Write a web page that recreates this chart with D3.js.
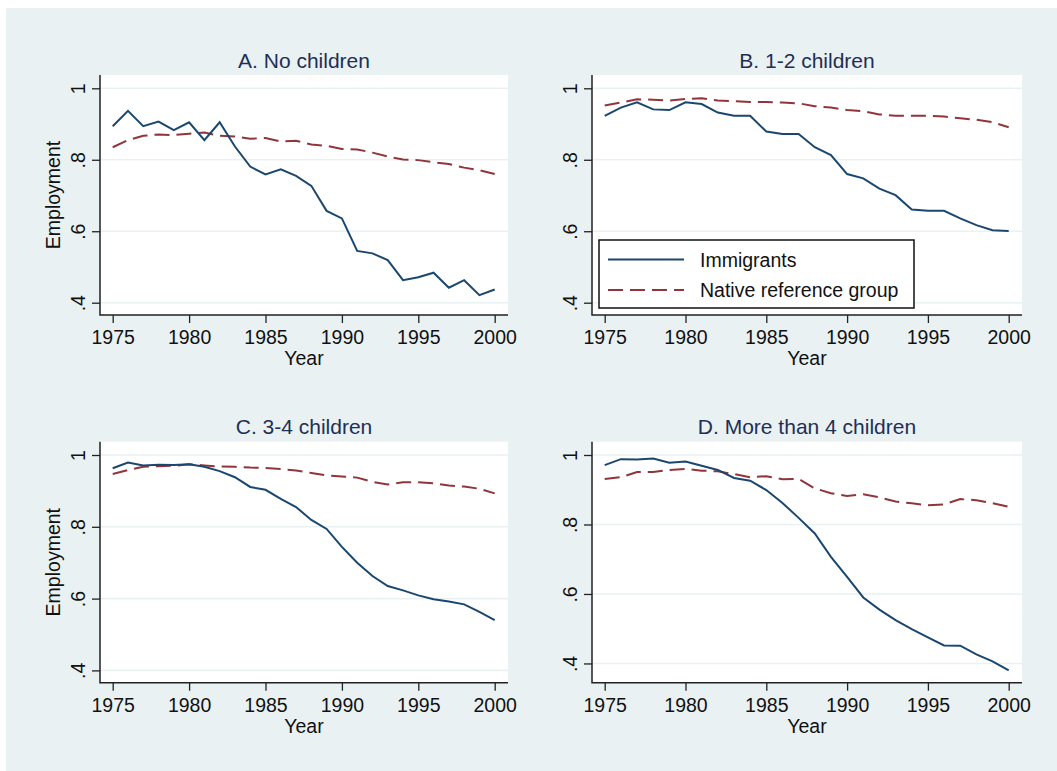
<!DOCTYPE html>
<meta charset="utf-8">
<html>
<head>
<script src="https://cdn.jsdelivr.net/npm/d3@7"></script>
<style>
  body { margin: 0; background: #fff; }
  text { font-family: "Liberation Sans", Arial, sans-serif; }
  .tick line { stroke: #222; stroke-width: 1.3px; }
  .tick text { fill: #111; font-size: 19.5px; }
</style>
</head>
<body>
<div id="chart"></div>
<script>
// ---- data ----
var years = [1975, 1976, 1977, 1978, 1979, 1980, 1981, 1982, 1983, 1984, 1985, 1986, 1987,
             1988, 1989, 1990, 1991, 1992, 1993, 1994, 1995, 1996, 1997, 1998, 1999, 2000];
var xTicks = [1975, 1980, 1985, 1990, 1995, 2000];
var yTicks = [0.4, 0.6, 0.8, 1];
var panelTitles = ["A. No children", "B. 1-2 children", "C. 3-4 children", "D. More than 4 children"];
var seriesNames = ["Immigrants", "Native reference group"];

var immA = [0.894, 0.937, 0.894, 0.907, 0.883, 0.905, 0.855, 0.905, 0.837, 0.781, 0.759, 0.773, 0.755,
            0.727, 0.657, 0.636, 0.545, 0.538, 0.519, 0.463, 0.471, 0.484, 0.442, 0.463, 0.421, 0.437];
var natA = [0.835, 0.855, 0.867, 0.871, 0.869, 0.873, 0.876, 0.867, 0.865, 0.859, 0.861, 0.851, 0.853,
            0.843, 0.839, 0.830, 0.829, 0.820, 0.809, 0.801, 0.799, 0.793, 0.788, 0.778, 0.771, 0.760];
var immB = [0.923, 0.946, 0.961, 0.941, 0.939, 0.961, 0.956, 0.932, 0.923, 0.923, 0.879, 0.872, 0.872,
            0.835, 0.813, 0.760, 0.748, 0.719, 0.701, 0.661, 0.657, 0.657, 0.636, 0.617, 0.603, 0.601];
var natB = [0.952, 0.960, 0.969, 0.968, 0.966, 0.970, 0.972, 0.966, 0.964, 0.962, 0.962, 0.960, 0.958,
            0.950, 0.946, 0.939, 0.936, 0.927, 0.923, 0.923, 0.923, 0.921, 0.916, 0.912, 0.905, 0.891];
var immC = [0.963, 0.979, 0.971, 0.973, 0.972, 0.974, 0.967, 0.955, 0.938, 0.911, 0.903, 0.878, 0.855,
            0.819, 0.794, 0.744, 0.700, 0.663, 0.635, 0.623, 0.609, 0.598, 0.592, 0.584, 0.563, 0.540];
var natC = [0.947, 0.958, 0.967, 0.969, 0.970, 0.974, 0.971, 0.968, 0.967, 0.965, 0.964, 0.961, 0.957,
            0.950, 0.943, 0.940, 0.937, 0.925, 0.918, 0.924, 0.924, 0.921, 0.915, 0.912, 0.906, 0.893];
var immD = [0.971, 0.988, 0.987, 0.990, 0.978, 0.981, 0.969, 0.957, 0.934, 0.926, 0.899, 0.862, 0.819,
            0.774, 0.707, 0.649, 0.590, 0.555, 0.525, 0.499, 0.475, 0.452, 0.451, 0.426, 0.406, 0.380];
var natD = [0.931, 0.936, 0.951, 0.951, 0.957, 0.960, 0.955, 0.953, 0.945, 0.936, 0.939, 0.930, 0.931,
            0.904, 0.890, 0.882, 0.887, 0.878, 0.866, 0.861, 0.855, 0.858, 0.873, 0.870, 0.861, 0.851];

// ---- layout ----
var W = 1057, H = 771;
var bg = "#eaf1f3";
var colors = ["#1a476f", "#90353b"];

var panels = [
  {title: panelTitles[0], imm: immA, nat: natA, left: 100, right: 508, top: 75, bottom: 315, ytitle: true},
  {title: panelTitles[1], imm: immB, nat: natB, left: 592, right: 1022, top: 75, bottom: 315, legend: true},
  {title: panelTitles[2], imm: immC, nat: natC, left: 100, right: 508, top: 441.7, bottom: 682.7, ytitle: true},
  {title: panelTitles[3], imm: immD, nat: natD, left: 592, right: 1022, top: 441.7, bottom: 682.7}
];

var svg = d3.select("#chart").append("svg")
    .attr("width", W)
    .attr("height", H);

svg.append("rect")
    .attr("x", 6).attr("y", 8)
    .attr("width", W - 6).attr("height", H - 8)
    .attr("fill", bg);

var fmt = function(d) { return d === 1 ? "1" : d3.format(".1f")(d).replace(/^0/, ""); };

panels.forEach(function(p) {
  var g = svg.append("g");

  var lo = Math.min(0.4, d3.min(p.imm.concat(p.nat)));
  var x = d3.scaleLinear().domain([1975, 2000]).range([p.left + 12.7, p.right - 13.3]);
  var y = d3.scaleLinear().domain([lo, 1]).range([p.bottom - 12.3, p.top + 13.3]);

  // plot region
  g.append("rect")
      .attr("x", p.left).attr("y", p.top)
      .attr("width", p.right - p.left).attr("height", p.bottom - p.top)
      .attr("fill", "#fff");

  // gridlines
  g.selectAll(".grid").data(yTicks).enter().append("line")
      .attr("x1", p.left).attr("x2", p.right)
      .attr("y1", function(d) { return y(d); }).attr("y2", function(d) { return y(d); })
      .attr("stroke", bg).attr("stroke-width", 1.6);

  // title
  g.append("text")
      .attr("x", (p.left + p.right) / 2).attr("y", p.top - 7.5)
      .attr("text-anchor", "middle")
      .attr("font-size", "21px")
      .attr("fill", "#1e2f55")
      .text(p.title);

  // x axis
  var xa = g.append("g")
      .attr("transform", "translate(0," + p.bottom + ")")
      .call(d3.axisBottom(x).tickValues(xTicks).tickFormat(d3.format("d")).tickSize(8).tickPadding(7).tickSizeOuter(0));
  xa.select(".domain").remove();

  // y axis
  var ya = g.append("g")
      .attr("transform", "translate(" + p.left + ",0)")
      .call(d3.axisLeft(y).tickValues(yTicks).tickFormat(fmt).tickSize(8).tickSizeOuter(0));
  ya.select(".domain").remove();
  ya.selectAll(".tick text")
      .attr("x", null).attr("dy", null)
      .attr("text-anchor", "middle")
      .attr("transform", "translate(-15,0) rotate(-90)");

  // axis lines
  g.append("path")
      .attr("d", "M" + p.left + "," + p.top + "V" + p.bottom + "H" + p.right)
      .attr("fill", "none").attr("stroke", "#222").attr("stroke-width", 1.5);

  // axis titles
  g.append("text")
      .attr("x", (p.left + p.right) / 2).attr("y", p.bottom + 50)
      .attr("text-anchor", "middle").attr("font-size", "19.5px").attr("fill", "#111")
      .text("Year");
  if (p.ytitle) {
    g.append("text")
        .attr("transform", "translate(" + (p.left - 40) + "," + ((p.top + p.bottom) / 2) + ") rotate(-90)")
        .attr("text-anchor", "middle").attr("font-size", "19.5px").attr("fill", "#111")
        .text("Employment");
  }

  var line = d3.line()
      .x(function(d, i) { return x(years[i]); })
      .y(function(d) { return y(d); });

  g.append("path").datum(p.nat)
      .attr("d", line)
      .attr("fill", "none").attr("stroke", colors[1]).attr("stroke-width", 2)
      .attr("stroke-dasharray", "15,7");
  g.append("path").datum(p.imm)
      .attr("d", line)
      .attr("fill", "none").attr("stroke", colors[0]).attr("stroke-width", 2);

  if (p.legend) {
    var lg = g.append("g").attr("transform", "translate(" + (p.left + 7) + "," + (p.bottom - 75) + ")");
    lg.append("rect")
        .attr("width", 315).attr("height", 68)
        .attr("fill", "#fff").attr("stroke", "#111").attr("stroke-width", 1.5);
    seriesNames.forEach(function(name, i) {
      var ly = 19.5 + i * 30.5;
      lg.append("line")
          .attr("x1", 9).attr("x2", 85).attr("y1", ly).attr("y2", ly)
          .attr("stroke", colors[i]).attr("stroke-width", 2)
          .attr("stroke-dasharray", i === 1 ? "15,7" : null);
      lg.append("text")
          .attr("x", 101).attr("y", ly + 7)
          .attr("font-size", "19.5px").attr("fill", "#111")
          .text(name);
    });
  }
});
</script>
</body>
</html>
